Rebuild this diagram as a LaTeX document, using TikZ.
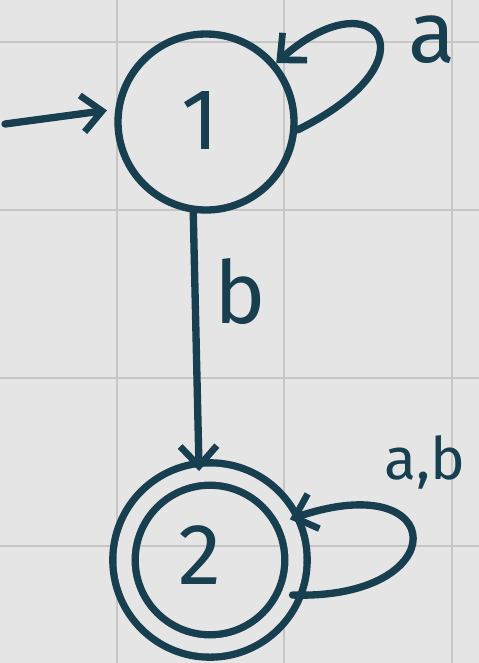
\documentclass[tikz,border=0pt]{standalone}
\usepackage{fontspec}
\setmainfont{Fira Sans}
\usetikzlibrary{arrows.meta}
\definecolor{ink}{HTML}{173F4F}
\definecolor{bg}{HTML}{E5E5E5}
\definecolor{gridc}{HTML}{C6C6C6}
\begin{document}
\begin{tikzpicture}[x=0.03cm,y=-0.03cm,
  ink line/.style={draw=ink,line width=0.22cm,line cap=round,line join=round},
  tip/.style={-{Straight Barb[length=0.6cm,width=1.1cm,line width=0.2cm]}},
  state/.style={circle,ink line,inner sep=0pt},
  lbl/.style={text=ink,inner sep=0pt,font=\fontsize{74}{74}\selectfont},
  small lbl/.style={text=ink,inner sep=0pt,font=\fontsize{50}{50}\selectfont}]
\fill[bg] (0,0) rectangle (479,663);
\useasboundingbox (0,0) rectangle (479,663);
\foreach \gx in {117,284,452} \draw[gridc,line width=0.06cm] (\gx,0) -- (\gx,663);
\foreach \gy in {42,210,378,546} \draw[gridc,line width=0.06cm] (0,\gy) -- (479,\gy);
% states
\node[state,minimum size=5.28cm] (s1) at (206,122) {};
\node[lbl] (t1) at (200,120) {1};
\node[state,double=bg,double distance=0.45cm,minimum size=5.16cm] (s2) at (210,560) {};
\node[lbl] (t2) at (200,555) {2};
% initial arrow
\coordinate (start) at (5,124);
\draw[ink line,tip,shorten >=0.25cm] (start) -- (s1.172);
% loop on 1
\draw[ink line,tip] (s1.-5) .. controls (440,60) and (375,-25) .. (s1.40);
\node[lbl] (la) at (432,40) {a};
% edge b
\draw[ink line,tip] (s1.-98) -- (s2.97);
\node[lbl] (lb) at (240,292) {b};
% loop on 2
\draw[ink line,tip] (s2.-23) .. controls (455,600) and (450,465) .. (s2.27);
\node[small lbl] (lab) at (425,462) {a,b};
\end{tikzpicture}
\end{document}
